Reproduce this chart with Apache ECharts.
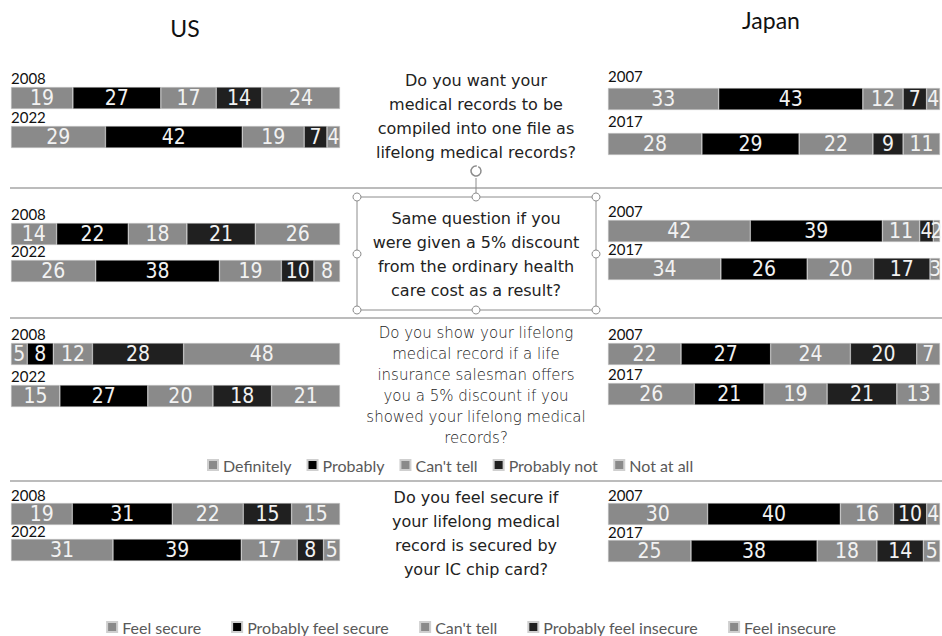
<!DOCTYPE html>
<html>
<head>
<meta charset="utf-8">
<script src="https://cdn.jsdelivr.net/npm/echarts@6/dist/echarts.min.js"></script>
<style>
  html, body { margin: 0; padding: 0; background: #fff; }
  #main { width: 942px; height: 636px; }
</style>
</head>
<body>
<div id="main"></div>
<script>
// answer categories
const answersA = ['Definitely', 'Probably', "Can't tell", 'Probably not', 'Not at all'];
const answersB = ['Feel secure', 'Probably feel secure', "Can't tell", 'Probably feel insecure', 'Feel insecure'];
const usYears = ['2008', '2022'];
const jpYears = ['2007', '2017'];

// survey results (%), one row per year
const usQ1 = [[19, 27, 17, 14, 24], [29, 42, 19, 7, 4]];
const jpQ1 = [[33, 43, 12, 7, 4], [28, 29, 22, 9, 11]];
const usQ2 = [[14, 22, 18, 21, 26], [26, 38, 19, 10, 8]];
const jpQ2 = [[42, 39, 11, 4, 2], [34, 26, 20, 17, 3]];
const usQ3 = [[5, 8, 12, 28, 48], [15, 27, 20, 18, 21]];
const jpQ3 = [[22, 27, 24, 20, 7], [26, 21, 19, 21, 13]];
const usQ4 = [[19, 31, 22, 15, 15], [31, 39, 17, 8, 5]];
const jpQ4 = [[30, 40, 16, 10, 4], [25, 38, 18, 14, 5]];

const questions = [
  ['Do you want your', 'medical records to be', 'compiled into one file as', 'lifelong medical records?'],
  ['Same question if you', 'were given a 5% discount', 'from the ordinary health', 'care cost as a result?'],
  ['Do you show your lifelong', 'medical record if a life', 'insurance salesman offers', 'you a 5% discount if you', 'showed your lifelong medical', 'records?'],
  ['Do you feel secure if', 'your lifelong medical', 'record is secured by', 'your IC chip card?']
];

// layout (pixels)
const segColors = ['#8a8a8a', '#000000', '#8a8a8a', '#202020', '#8a8a8a'];
const usBox = { left: 11, width: 329 };
const jpBox = { left: 608, width: 332 };
// bar tops per section: [row1, row2]
const usTops = [[87, 126], [223, 260], [343, 385], [503, 539]];
const jpTops = [[88, 133], [220, 258], [343, 383], [503, 540]];
const barH = 22;

const panels = [
  { box: usBox, tops: usTops[0], years: usYears, rows: usQ1, names: answersA, gap: 2 },
  { box: jpBox, tops: jpTops[0], years: jpYears, rows: jpQ1, names: answersA, gap: 5 },
  { box: usBox, tops: usTops[1], years: usYears, rows: usQ2, names: answersA, gap: 2 },
  { box: jpBox, tops: jpTops[1], years: jpYears, rows: jpQ2, names: answersA, gap: 2 },
  { box: usBox, tops: usTops[2], years: usYears, rows: usQ3, names: answersA, gap: 2 },
  { box: jpBox, tops: jpTops[2], years: jpYears, rows: jpQ3, names: answersA, gap: 2 },
  { box: usBox, tops: usTops[3], years: usYears, rows: usQ4, names: answersB, gap: 1 },
  { box: jpBox, tops: jpTops[3], years: jpYears, rows: jpQ4, names: answersB, gap: 1 }
];

const grid = [], xAxis = [], yAxis = [], series = [];
panels.forEach(function (p) {
  p.rows.forEach(function (row, r) {
    const gi = grid.length;
    grid.push({ left: p.box.left, width: p.box.width, top: p.tops[r], height: barH });
    xAxis.push({ gridIndex: gi, type: 'value', min: 0, max: 'dataMax', show: false });
    yAxis.push({
      gridIndex: gi, type: 'category', data: [p.years[r]],
      axisLine: { show: false }, axisTick: { show: false }, axisLabel: { show: false },
      splitLine: { show: false },
      name: p.years[r], nameLocation: 'end', nameGap: p.gap,
      nameTextStyle: {
        align: 'left', color: '#111', fontSize: 15, lineHeight: 14,
        fontFamily: 'Lato, sans-serif'
      }
    });
    row.forEach(function (v, k) {
      series.push({
        type: 'bar', name: p.names[k], stack: 'g' + gi,
        xAxisIndex: gi, yAxisIndex: gi,
        data: [v], barWidth: '100%',
        itemStyle: { color: segColors[k], borderColor: '#cfcfcf', borderWidth: 0.5 },
        label: {
          show: true, position: 'inside', formatter: '{c}',
          color: '#f2f2f2', fontSize: 21,
          fontFamily: "'Liberation Sans Narrow', 'DejaVu Sans Condensed', sans-serif"
        },
        emphasis: { disabled: true },
        animation: false
      });
    });
  });
});

// question texts in the middle column
const qStyle = [
  { top: 80, lh: 24, size: 16, weight: 'normal' },
  { top: 218, lh: 24, size: 16, weight: 'normal' },
  { top: 333, lh: 21, size: 15, weight: 200 },
  { top: 497, lh: 24, size: 16, weight: 'normal' }
];
const graphics = [];
questions.forEach(function (lines, i) {
  const s = qStyle[i];
  lines.forEach(function (t, j) {
    graphics.push({
      type: 'text', x: 476, y: s.top + j * s.lh,
      style: {
        text: t, fill: '#222', fontSize: s.size, fontWeight: s.weight,
        fontFamily: "'DejaVu Sans', 'Noto Sans', sans-serif",
        align: 'center', verticalAlign: 'middle'
      }
    });
  });
});

// separator lines
[188, 318, 481].forEach(function (y) {
  graphics.push({
    type: 'line', shape: { x1: 10, y1: y, x2: 942, y2: y },
    style: { stroke: '#a6a6a6', lineWidth: 1.5 }
  });
});

// selected text box with handles around question 2
graphics.push({
  type: 'line', shape: { x1: 476, y1: 178, x2: 476, y2: 197 },
  style: { stroke: '#8c8c8c', lineWidth: 1 }
});
graphics.push({
  type: 'arc', shape: { cx: 476, cy: 171, r: 5, startAngle: -Math.PI * 0.35, endAngle: Math.PI * 1.55 },
  style: { stroke: '#8c8c8c', lineWidth: 1.5, fill: null }
});
graphics.push({
  type: 'rect', shape: { x: 357, y: 197, width: 239, height: 113 },
  style: { stroke: '#8c8c8c', lineWidth: 1, fill: null }
});
[[357, 197], [476, 197], [596, 197], [357, 254], [596, 254], [357, 310], [476, 310], [596, 310]].forEach(function (h) {
  graphics.push({
    type: 'circle', shape: { cx: h[0], cy: h[1], r: 4 },
    style: { stroke: '#8c8c8c', lineWidth: 1, fill: '#fff' }, z: 10
  });
});

// country headings
graphics.push({
  type: 'text', x: 185, y: 28,
  style: { text: 'US', fontSize: 23, fill: '#111', fontFamily: 'Lato, sans-serif', align: 'center', verticalAlign: 'middle' }
});
graphics.push({
  type: 'text', x: 771, y: 20,
  style: { text: 'Japan', fontSize: 23, fill: '#111', fontFamily: 'Lato, sans-serif', align: 'center', verticalAlign: 'middle' }
});

const legendText = { color: '#595959', fontSize: 16, fontFamily: 'Lato, sans-serif' };

const chart = echarts.init(document.getElementById('main'), null, { renderer: 'svg' });
chart.setOption({
  animation: false,
  backgroundColor: '#ffffff',
  grid: grid,
  xAxis: xAxis,
  yAxis: yAxis,
  series: series,
  legend: [
    {
      data: answersA, left: 207, top: 457, padding: 0, icon: 'rect', itemWidth: 10, itemHeight: 10,
      itemGap: 15, textStyle: legendText, selectedMode: false
    },
    {
      data: answersB, left: 'center', top: 619, padding: 0, icon: 'rect', itemWidth: 10, itemHeight: 10,
      itemGap: 30, textStyle: legendText, selectedMode: false
    }
  ],
  graphic: graphics
});
</script>
</body>
</html>
